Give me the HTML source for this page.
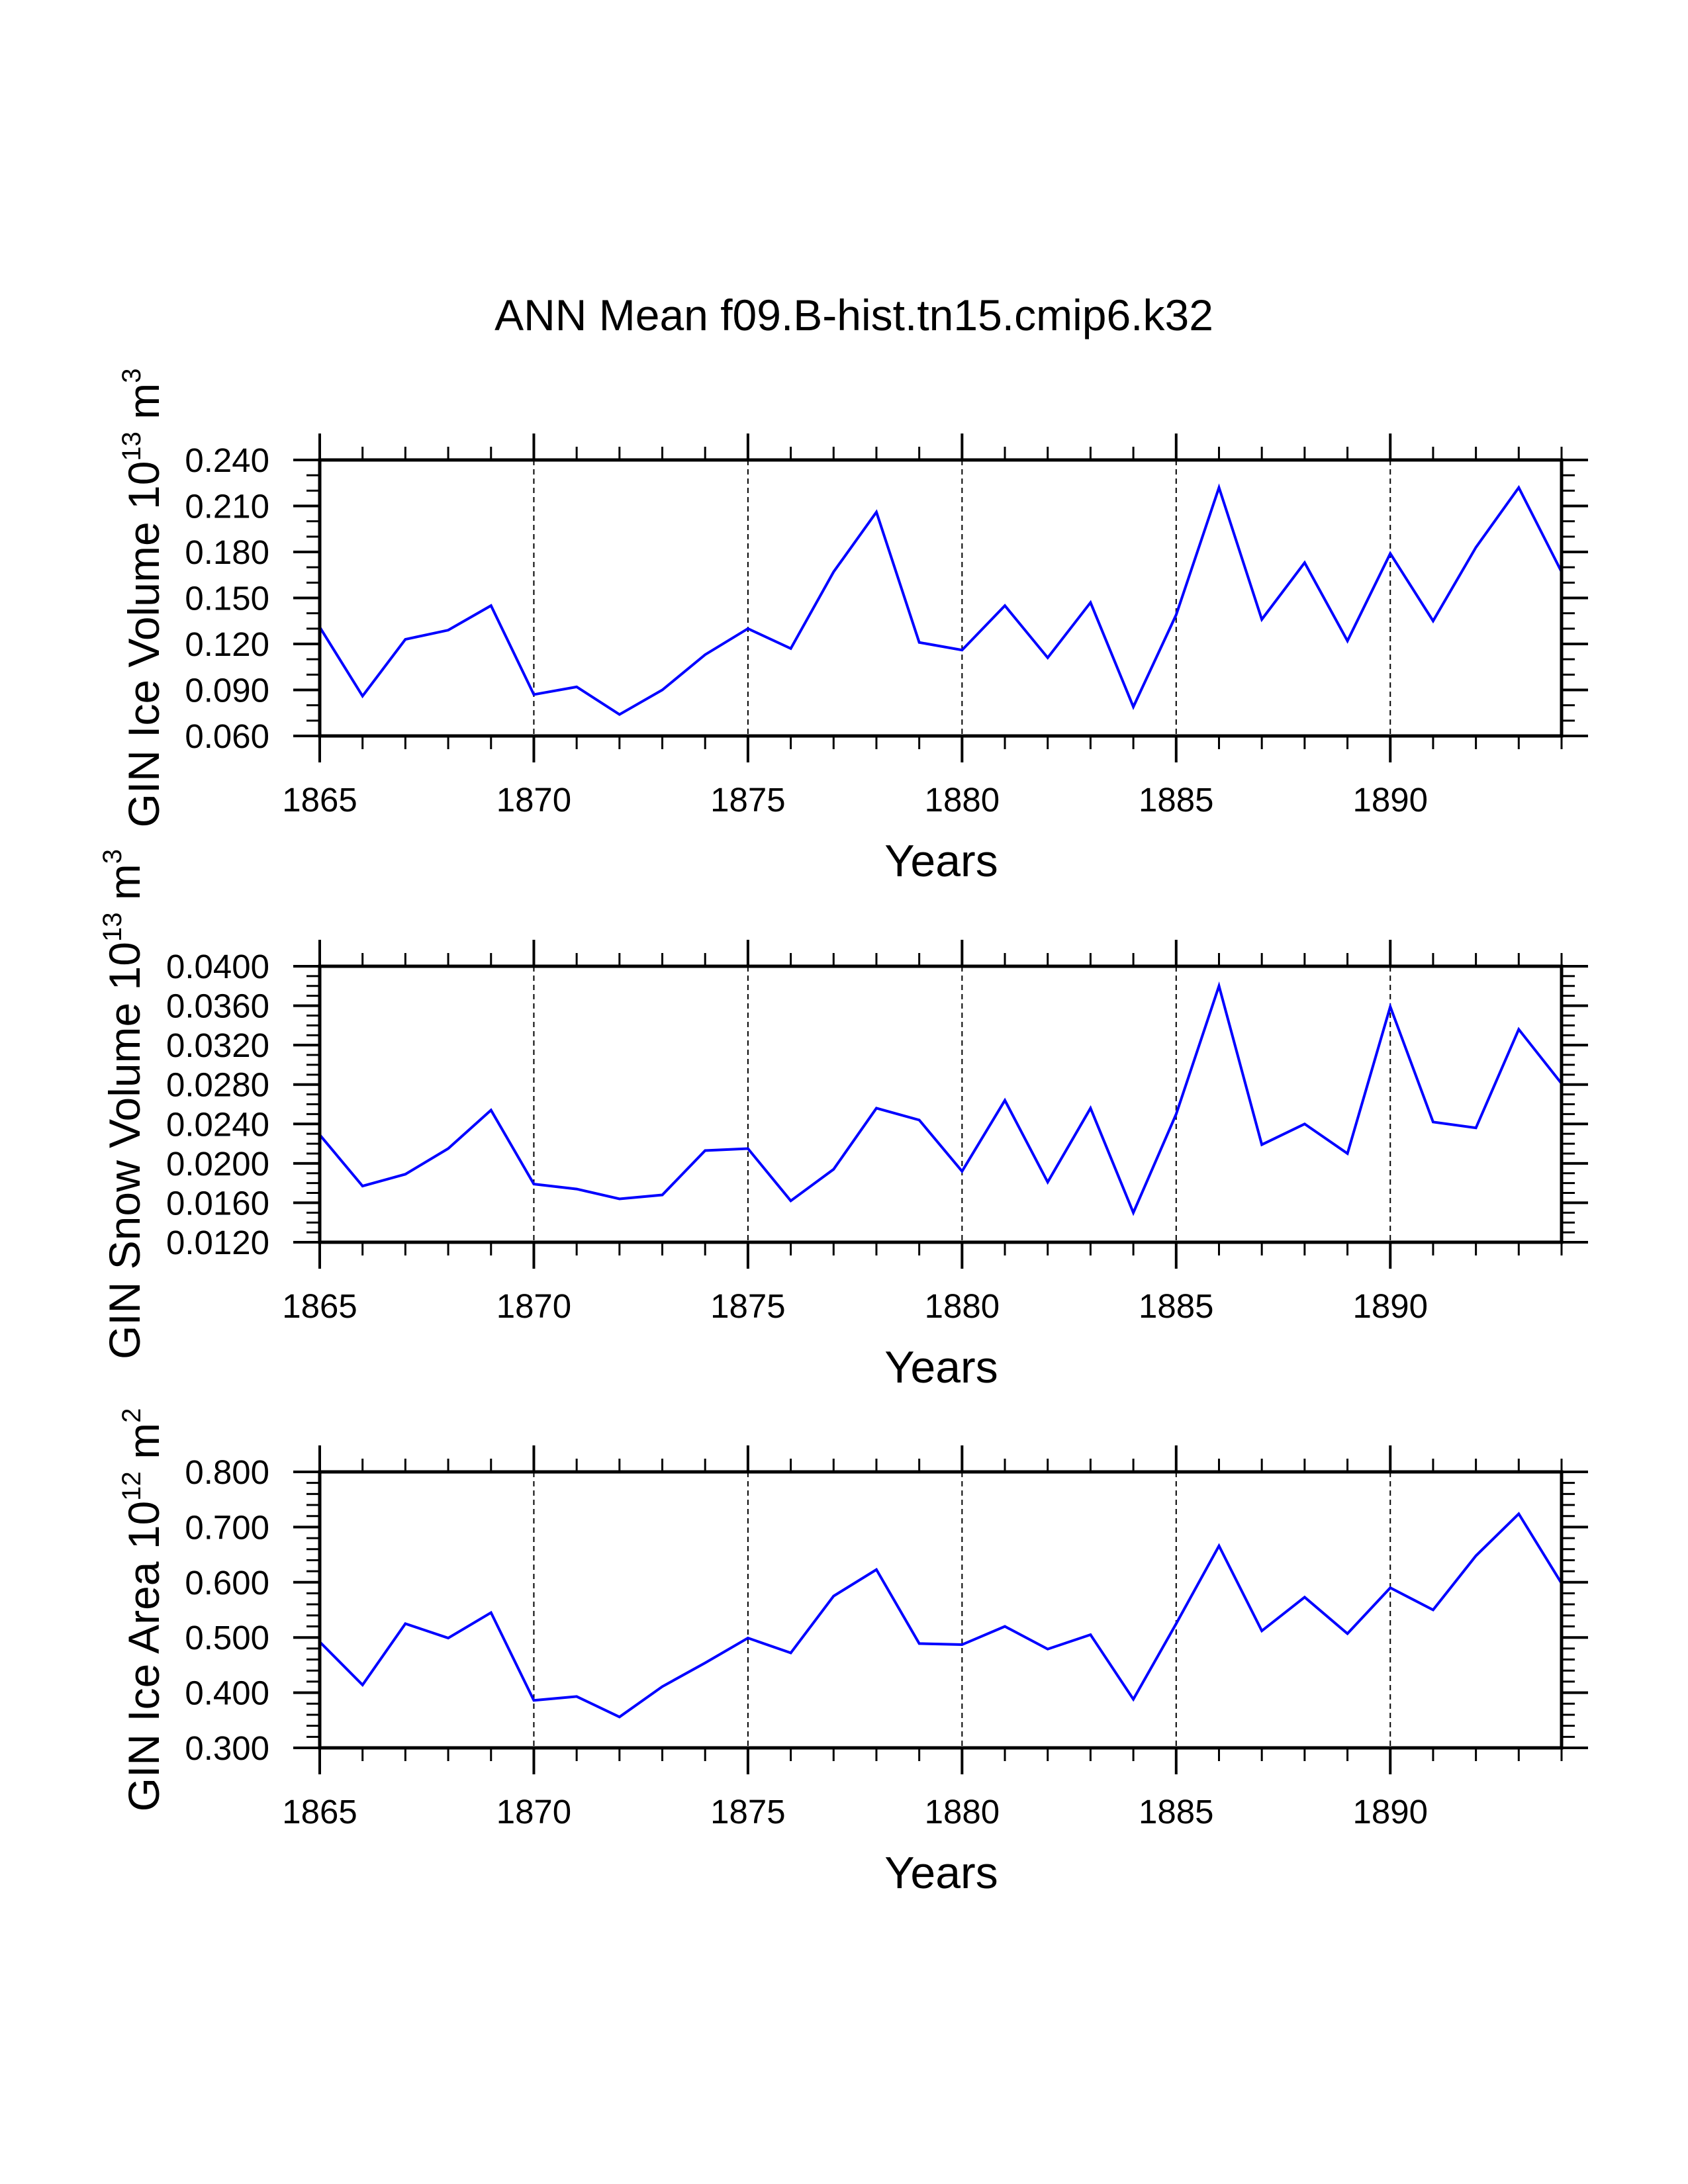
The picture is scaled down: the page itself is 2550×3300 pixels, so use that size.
<!DOCTYPE html>
<html><head><meta charset="utf-8"><style>
html,body{margin:0;padding:0;background:#fff}
svg{display:block}
text{font-family:"Liberation Sans",sans-serif;fill:#000}
</style></head><body>
<svg id="chart" width="2550" height="3300" xmlns="http://www.w3.org/2000/svg">
<text x="1290" y="499" font-size="66" text-anchor="middle">ANN Mean f09.B-hist.tn15.cmip6.k32</text>
</svg>
<script>
const years = [1865,1866,1867,1868,1869,1870,1871,1872,1873,1874,1875,1876,1877,1878,1879,1880,1881,1882,1883,1884,1885,1886,1887,1888,1889,1890,1891,1892,1893,1894];
const iceVolume = [0.131,0.086,0.123,0.129,0.145,0.087,0.092,0.074,0.090,0.113,0.130,0.117,0.167,0.206,0.121,0.116,0.145,0.111,0.147,0.079,0.139,0.222,0.136,0.173,0.122,0.179,0.135,0.183,0.222,0.167];
const snowVolume = [0.0229,0.0177,0.0189,0.0215,0.0254,0.0179,0.0174,0.0164,0.0168,0.0213,0.0215,0.0162,0.0194,0.0256,0.0244,0.0192,0.0264,0.0181,0.0256,0.0150,0.0250,0.0380,0.0219,0.0240,0.0210,0.0359,0.0242,0.0236,0.0336,0.0281];
const iceArea = [0.492,0.414,0.525,0.499,0.545,0.386,0.393,0.356,0.411,0.454,0.499,0.472,0.575,0.623,0.489,0.487,0.520,0.479,0.505,0.388,0.525,0.666,0.512,0.573,0.507,0.590,0.550,0.648,0.724,0.598];
const xTickLabels = [1865,1870,1875,1880,1885,1890];
const ticks1 = ["0.060","0.090","0.120","0.150","0.180","0.210","0.240"];
const ticks2 = ["0.0120","0.0160","0.0200","0.0240","0.0280","0.0320","0.0360","0.0400"];
const ticks3 = ["0.300","0.400","0.500","0.600","0.700","0.800"];

const NS="http://www.w3.org/2000/svg";
const svg=document.getElementById('chart');
function mk(tag,attrs,parent){const e=document.createElementNS(NS,tag);for(const k in attrs)e.setAttribute(k,attrs[k]);(parent||svg).appendChild(e);return e;}
const L=483,R=2359,H=417,X0=1865,X1=1894;
function xs(v){return L+(v-X0)/(X1-X0)*(R-L);}

function panel(top,name,vals,ticks,minorStep,title,exp,unitExp,titleX){
  const g=mk('g',{});
  
  
  const ymin=parseFloat(ticks[0]),ymax=parseFloat(ticks[ticks.length-1]);
  const B=top+H;
  const ys=v=>B-(v-ymin)/(ymax-ymin)*H;
  for(const yr of xTickLabels){ if(yr===X0) continue;
    const gl=mk('line',{x1:xs(yr),x2:xs(yr),y1:top,y2:B,stroke:'#000','stroke-width':2,'stroke-dasharray':'8,6'},g);
    
    
  }
  for(let yr=X0;yr<=X1;yr++){
    const major=(yr%5===0);const len=major?40:20;
    mk('line',{x1:xs(yr),x2:xs(yr),y1:top,y2:top-len,stroke:'#000','stroke-width':major?4:3},g);
    mk('line',{x1:xs(yr),x2:xs(yr),y1:B,y2:B+len,stroke:'#000','stroke-width':major?4:3},g);
  }
  const n=Math.round((ymax-ymin)/minorStep);
  const majorStep=(parseFloat(ticks[1])-ymin);
  const per=Math.round(majorStep/minorStep);
  for(let i=0;i<=n;i++){
    const y=ys(ymin+i*minorStep);const major=(i%per===0);const len=major?40:20;
    mk('line',{x1:L,x2:L-len,y1:y,y2:y,stroke:'#000','stroke-width':major?4:3},g);
    mk('line',{x1:R,x2:R+len,y1:y,y2:y,stroke:'#000','stroke-width':major?4:3},g);
  }
  ticks.forEach(t=>{
    const tl=mk('text',{x:407,y:ys(parseFloat(t))+18,'font-size':51,'text-anchor':'end'},g);
    tl.textContent=t;
    
    
  });
  xTickLabels.forEach(t=>{
    const tl=mk('text',{x:xs(t),y:B+114,'font-size':51,'text-anchor':'middle'},g);
    tl.textContent=t;
    
    
  });
  const xt=mk('text',{x:1422,y:B+212,'font-size':68,'text-anchor':'middle'},g);
  xt.textContent='Years';
  
  
  const yt=mk('text',{transform:`translate(${titleX},${top+H/2}) rotate(-90)`,'font-size':66,'text-anchor':'middle'},g);
  
  
  yt.appendChild(document.createTextNode(title+' 10'));
  const s1=mk('tspan',{dy:-28,'font-size':40},yt);s1.textContent=exp;
  const s2=mk('tspan',{dy:28},yt);s2.textContent='  m';
  const s3=mk('tspan',{dy:-28,'font-size':40},yt);s3.textContent=unitExp;
  const pts=vals.map((v,i)=>xs(years[i])+','+ys(v)).join(' ');
  const pl=mk('polyline',{points:pts,fill:'none',stroke:'#0000ff','stroke-width':4,'stroke-linejoin':'miter'},g);
  
  
  const fr=mk('rect',{x:L,y:top,width:R-L,height:H,fill:'none',stroke:'#000','stroke-width':5},g);
  
  
}
panel(695,'ice-volume',iceVolume,ticks1,0.01,'GIN Ice Volume','13','3',240);
panel(1460,'snow-volume',snowVolume,ticks2,0.001,'GIN Snow Volume','13','3',211);
panel(2224,'ice-area',iceArea,ticks3,0.02,'GIN Ice Area','12','2',240);
</script>
</body></html>
